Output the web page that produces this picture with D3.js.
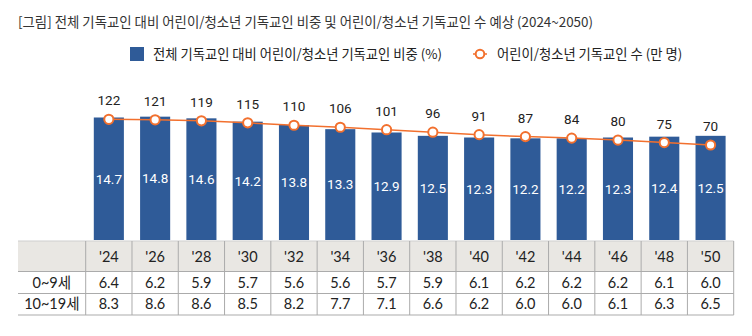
<!DOCTYPE html>
<html><head><meta charset="utf-8">
<script src="https://cdn.jsdelivr.net/npm/d3@7"></script>
<style>
html,body{margin:0;padding:0;background:#fff;}
svg{display:block;}
</style></head>
<body>
<script>
const years = ["'24","'26","'28","'30","'32","'34","'36","'38","'40","'42","'44","'46","'48","'50"];
const shareValues = [14.7,14.8,14.6,14.2,13.8,13.3,12.9,12.5,12.3,12.2,12.2,12.3,12.4,12.5];
const countValues = [122,121,119,115,110,106,101,96,91,87,84,80,75,70];
const rowLabels = ["0~9세","10~19세"];
const age0to9 = [6.4,6.2,5.9,5.7,5.6,5.6,5.7,5.9,6.1,6.2,6.2,6.2,6.1,6.0];
const age10to19 = [8.3,8.6,8.6,8.5,8.2,7.7,7.1,6.6,6.2,6.0,6.0,6.1,6.3,6.5];
const titleText = "[그림] 전체 기독교인 대비 어린이/청소년 기독교인 비중 및 어린이/청소년 기독교인 수 예상 (2024~2050)";
const legendBar = "전체 기독교인 대비 어린이/청소년 기독교인 비중 (%)";
const legendLine = "어린이/청소년 기독교인 수 (만 명)";

const W = 752, H = 336;
const BAR = "#2f5b98", ORANGE = "#f2702e", GRID = "#ababab";
const KR = "'Noto Sans CJK KR','Noto Sans',sans-serif";
const NUM = "Roboto,'Noto Sans',sans-serif";
const TBL = "Lato,'Noto Sans CJK KR',sans-serif";

const svg = d3.select("body").append("svg").attr("width", W).attr("height", H);

const left = 85.7, right = 733.7, tableLeft = 18;
const xc = d3.scaleBand().domain(years).range([left, right]);
const xb = d3.scaleBand().domain(years).range([left, right]).paddingInner(0.35).paddingOuter(0.175);
const y = d3.scaleLinear().domain([0, 15]).range([240, 115]);
const y2 = d3.scaleLinear().domain([0, 250]).range([179.6, 56.1]);

// title
svg.append("text").attr("x", 18).attr("y", 27)
  .attr("font-family", KR).attr("font-size", 13.4).attr("fill", "#333")
  .text(titleText);

// legend
svg.append("rect").attr("x", 130).attr("y", 47).attr("width", 14).attr("height", 14).attr("fill", BAR);
svg.append("text").attr("x", 153).attr("y", 58.5).attr("font-family", KR).attr("font-size", 13.3).attr("fill", "#222").text(legendBar);
svg.append("line").attr("x1", 473).attr("x2", 487).attr("y1", 54).attr("y2", 54).attr("stroke", ORANGE).attr("stroke-width", 1.5);
svg.append("circle").attr("cx", 480).attr("cy", 54).attr("r", 4.3).attr("fill", "#fff").attr("stroke", ORANGE).attr("stroke-width", 2);
svg.append("text").attr("x", 497).attr("y", 58.5).attr("font-family", KR).attr("font-size", 13.3).attr("fill", "#222").text(legendLine);

// bars
svg.append("g").selectAll("rect").data(shareValues).join("rect")
  .attr("x", (d, i) => xb(years[i])).attr("width", xb.bandwidth())
  .attr("y", d => y(d)).attr("height", d => y(0) - y(d))
  .attr("fill", BAR);
svg.append("g").selectAll("text").data(shareValues).join("text")
  .attr("x", (d, i) => xb(years[i]) + xb.bandwidth() / 2)
  .attr("y", d => (y(d) + y(0)) / 2).attr("dy", "0.36em")
  .attr("text-anchor", "middle").attr("font-family", NUM).attr("font-size", 13.5).attr("fill", "#fff")
  .text(d => d.toFixed(1));

// line
const cx = (i) => xb(years[i]) + xb.bandwidth() / 2;
svg.append("path").datum(countValues)
  .attr("d", d3.line().x((d, i) => cx(i)).y(d => y2(d)))
  .attr("fill", "none").attr("stroke", ORANGE).attr("stroke-width", 1.5);
svg.append("g").selectAll("circle").data(countValues).join("circle")
  .attr("cx", (d, i) => cx(i)).attr("cy", d => y2(d)).attr("r", 4.6)
  .attr("fill", "#fff").attr("stroke", ORANGE).attr("stroke-width", 2);
svg.append("g").selectAll("text").data(countValues).join("text")
  .attr("x", (d, i) => cx(i)).attr("y", d => y2(d) - 14)
  .attr("text-anchor", "middle").attr("font-family", NUM).attr("font-size", 13.5).attr("fill", "#222")
  .text(d => d);

// table
const rowsY = [241, 271.5, 293.5, 315];
const tg = svg.append("g");
tg.append("rect").attr("x", tableLeft).attr("y", rowsY[0]).attr("width", right - tableLeft).attr("height", rowsY[1] - rowsY[0]).attr("fill", "#e9e7e3");
rowsY.forEach((ry, k) => {
  tg.append("line").attr("x1", tableLeft).attr("x2", right).attr("y1", ry).attr("y2", ry)
    .attr("stroke", k === 0 ? "#cfcfcf" : GRID).attr("stroke-width", 1);
});
const colEdges = years.map(d => xc(d)).concat([right]);
tg.selectAll("line.v").data(colEdges).join("line").attr("class", "v")
  .attr("x1", d => d).attr("x2", d => d).attr("y1", rowsY[0]).attr("y2", rowsY[3])
  .attr("stroke", GRID).attr("stroke-width", 1);
tg.selectAll("text.h").data(years).join("text").attr("class", "h")
  .attr("x", d => xc(d) + xc.bandwidth() / 2).attr("y", (rowsY[0] + rowsY[1]) / 2 + 1).attr("dy", "0.36em")
  .attr("text-anchor", "middle").attr("font-family", TBL).attr("font-size", 14.5).attr("fill", "#222")
  .text(d => d);
[age0to9, age10to19].forEach((row, r) => {
  const cyy = (rowsY[r + 1] + rowsY[r + 2]) / 2;
  tg.append("text").attr("x", (tableLeft + left) / 2).attr("y", cyy).attr("dy", "0.36em")
    .attr("text-anchor", "middle").attr("font-family", TBL).attr("font-size", 14.5).attr("fill", "#222")
    .text(rowLabels[r]);
  tg.selectAll("text.r" + r).data(row).join("text").attr("class", "r" + r)
    .attr("x", (d, i) => xc(years[i]) + xc.bandwidth() / 2).attr("y", cyy).attr("dy", "0.36em")
    .attr("text-anchor", "middle").attr("font-family", TBL).attr("font-size", 14.5).attr("fill", "#222")
    .text(d => d.toFixed(1));
});
</script>
</body></html>
